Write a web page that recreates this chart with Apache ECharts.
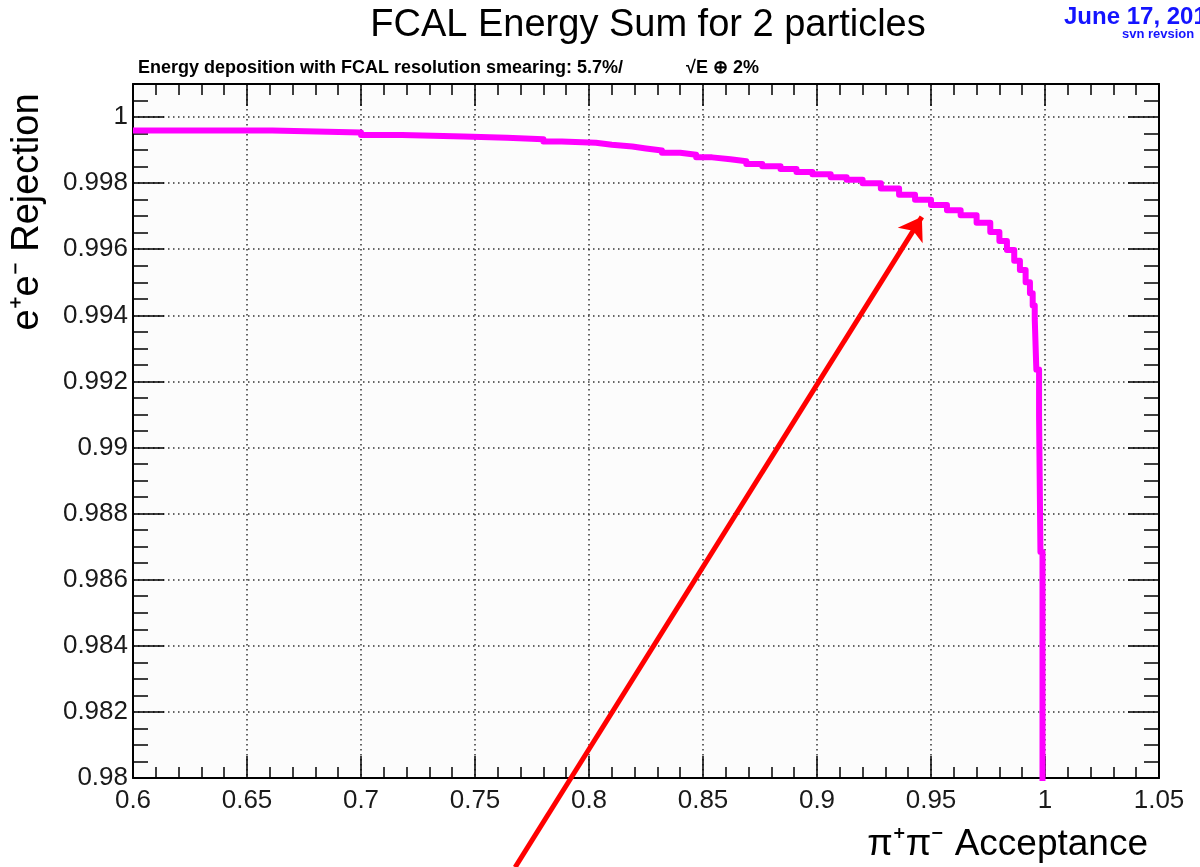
<!DOCTYPE html>
<html>
<head>
<meta charset="utf-8">
<script src="https://cdn.jsdelivr.net/npm/echarts@6/dist/echarts.min.js"></script>
<style>
  html, body { margin: 0; padding: 0; background: #fff; }
</style>
</head>
<body>
<div id="main" style="width: 1200px; height: 867px;"></div>
<script>
// pi+pi- acceptance (left edge of each step) and e+e- rejection level
const acceptance = [
  0.600, 0.661, 0.700, 0.718, 0.745, 0.764, 0.780, 0.788, 0.803, 0.810,
  0.819, 0.825, 0.832, 0.840, 0.847, 0.854, 0.862, 0.869, 0.876, 0.884,
  0.891, 0.898, 0.906, 0.913, 0.920, 0.928, 0.936, 0.943, 0.950, 0.957,
  0.963, 0.970, 0.976, 0.980, 0.9833, 0.9865, 0.989, 0.9915, 0.9934, 0.9946,
  0.9955, 0.9962, 0.9974, 0.9980, 0.9989
];
const rejection = [
  0.99959, 0.99953, 0.99946, 0.99941, 0.99937, 0.99933, 0.99926, 0.99922, 0.99916, 0.99911,
  0.99905, 0.99899, 0.99892, 0.99886, 0.99878, 0.99872, 0.99866, 0.99858, 0.99851, 0.99843,
  0.99834, 0.99827, 0.99818, 0.99810, 0.99800, 0.99784, 0.99765, 0.99750, 0.99734, 0.99718,
  0.99703, 0.99680, 0.99652, 0.99625, 0.99598, 0.99565, 0.99537, 0.99500, 0.99467, 0.99430,
  0.99390, 0.99236, 0.99095, 0.98684, 0.97900
];

// axis ranges
const xRange = [0.6, 1.05];
const xStep = 0.05;
const yRange = [0.98, 1.001];
const yStep = 0.002;

// red arrow drawn on top of the plot (data coordinates)
const arrowFrom = [0.7676, 0.9773];
const arrowTo = [0.9460, 0.99698];

const chart = echarts.init(document.getElementById('main'));

const font = '"Liberation Sans", Arial, Helvetica, sans-serif';
const frame = { show: true, onZero: false, lineStyle: { color: '#000', width: 2 } };
const dots = { show: true, lineStyle: { color: '#333', width: 1.5, type: [1.5, 3.5] } };

function xAxisOf (pos, main) {
  return {
    type: 'value', position: pos,
    min: xRange[0], max: xRange[1], interval: xStep,
    axisLine: frame,
    axisTick: { show: true, inside: true, length: 22, lineStyle: { color: '#000', width: 1.5 } },
    minorTick: { show: true, splitNumber: 5, length: 11, lineStyle: { color: '#000', width: 1.5 } },
    splitLine: main ? dots : { show: false },
    axisLabel: {
      show: main, margin: 10, color: '#1a1a1a', fontSize: 26, fontFamily: font,
      formatter: v => String(+v.toFixed(2))
    }
  };
}

function yAxisOf (pos, main) {
  return {
    type: 'value', position: pos,
    min: yRange[0], max: yRange[1], interval: yStep,
    axisLine: frame,
    axisTick: { show: true, inside: true, length: 31, lineStyle: { color: '#000', width: 1.5 } },
    minorTick: { show: true, splitNumber: 4, length: 15, lineStyle: { color: '#000', width: 1.5 } },
    splitLine: main ? dots : { show: false },
    axisLabel: {
      show: main, margin: 5, color: '#1a1a1a', fontSize: 26, fontFamily: font,
      formatter: v => (v > 1.0005 ? '' : String(+v.toFixed(3)))
    }
  };
}

const option = {
  backgroundColor: '#ffffff',
  animation: false,
  grid: {
    left: 133, right: 41, top: 84, bottom: 89,
    show: true, backgroundColor: '#fcfcfc', borderWidth: 0,
    outerBoundsMode: 'none'
  },
  xAxis: [xAxisOf('bottom', true), xAxisOf('top', false)],
  yAxis: [yAxisOf('left', true), yAxisOf('right', false)],
  graphic: [
    { type: 'text', x: 648, y: 26, style: { text: 'FCAL Energy Sum for 2 particles', font: '38px ' + font, fill: '#000', align: 'center', verticalAlign: 'middle' } },
    { type: 'text', x: 138, y: 68, style: { text: 'Energy deposition with FCAL resolution smearing: 5.7%/', font: 'bold 18px ' + font, fill: '#000', verticalAlign: 'middle' } },
    { type: 'text', x: 686, y: 68, style: { text: '√E ⊕ 2%', font: 'bold 18px ' + font, fill: '#000', verticalAlign: 'middle' } },
    { type: 'text', x: 1064, y: 17, style: { text: 'June 17, 2011', font: 'bold 24px ' + font, fill: '#1414ff', verticalAlign: 'middle' } },
    { type: 'text', x: 1122, y: 34, style: { text: 'svn revsion', font: 'bold 13px ' + font, fill: '#1414ff', verticalAlign: 'middle' } },
    { type: 'text', x: 28, y: 212, rotation: Math.PI / 2, style: { text: 'e⁺e⁻ Rejection', font: '38px ' + font, fill: '#000', align: 'center', verticalAlign: 'middle' } },
    { type: 'text', x: 1148, y: 845, style: { text: 'π⁺π⁻ Acceptance', font: '37px ' + font, fill: '#000', align: 'right', verticalAlign: 'middle' } }
  ],
  series: [
    {
      name: 'rejection',
      type: 'line',
      step: 'end',
      showSymbol: false,
      clip: true,
      lineStyle: { color: '#ff00ff', width: 6, join: 'round', cap: 'butt' },
      data: acceptance.map((x, i) => [x, rejection[i]]),
      z: 3
    },
    {
      type: 'lines',
      coordinateSystem: 'cartesian2d',
      clip: false,
      symbol: ['none', 'arrow'],
      symbolSize: 22,
      lineStyle: { color: '#ff0000', width: 5, opacity: 1 },
      data: [{ coords: [arrowFrom, arrowTo] }],
      z: 5
    }
  ]
};

chart.setOption(option);
</script>
</body>
</html>
